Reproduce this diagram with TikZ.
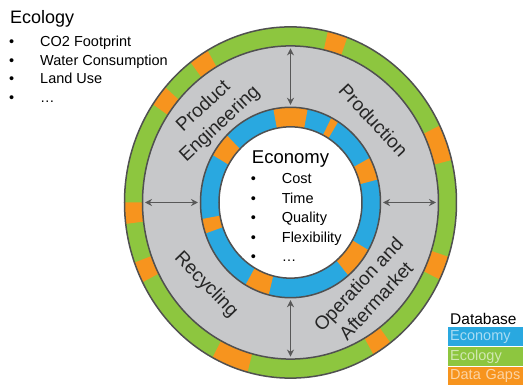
\documentclass[tikz,border=0pt]{standalone}
\usepackage{fontspec}
\setmainfont{Liberation Sans}
\usepackage{tikz}
\usetikzlibrary{arrows.meta,positioning}
\definecolor{ringgray}{RGB}{199,200,202}
\definecolor{econblue}{RGB}{41,168,224}
\definecolor{ecogreen}{RGB}{141,198,63}
\definecolor{gaporange}{RGB}{247,148,30}
\definecolor{edge}{RGB}{80,80,80}
\definecolor{arrowgray}{RGB}{88,88,88}

\begin{document}
\begin{tikzpicture}[x=1pt,y=1pt,font=\fontsize{14.5}{17}\selectfont]
\tikzset{rim/.style={draw=edge,line width=1.5pt},
  lbl/.style={font=\fontsize{19}{24}\selectfont,align=center,text=black!85,inner sep=0pt},
  itm/.style={anchor=base west,inner sep=0pt},
  bul/.style={anchor=base,inner sep=0pt},
  link/.style={{Stealth[length=7pt,width=7pt]}-{Stealth[length=7pt,width=7pt]},draw=arrowgray,line width=1.5pt,shorten <=2.5pt,shorten >=2.5pt},
  legbox/.style={anchor=north west,minimum width=75pt,minimum height=19.3pt,text width=71pt,inner xsep=2pt,inner ysep=0pt,align=left}}
\useasboundingbox[fill=white] (-290.5,-182.5) rectangle (232.5,202.5);

\begin{scope}[yscale=1.058]
\fill[ecogreen] (0,0) circle[radius=166];
\foreach \a/\b in {14/26,70/77,120/127,139/146,180/187,200/207,242/255,300/307,334/342}
  \fill[gaporange] (0,0) -- (\a:166) arc[start angle=\a,end angle=\b,radius=166] -- cycle;
\fill[ringgray] (0,0) circle[radius=148];
\fill[econblue] (0,0) circle[radius=90];
\foreach \a/\b in {14/28,58/63,79/101,135/150,190/199,240/256,310/330}
  \fill[gaporange] (0,0) -- (\a:90) arc[start angle=\a,end angle=\b,radius=90] -- cycle;
\fill[white] (0,0) circle[radius=71.5];
\foreach \r in {166,148,90,71.5} \draw[rim] (0,0) circle[radius=\r];
\foreach \a in {0,90,180,270} {
  \coordinate (go\a) at (\a:148);
  \coordinate (bo\a) at (\a:90);
}
\end{scope}
\foreach \a in {0,90,180,270} \draw[link] (go\a) -- (bo\a);

\node[lbl,rotate=43] (pe) at (-78.5,87) {Product\\Engineering};
\node[lbl,rotate=-47] (pr) at (83,82.5) {Production};
\node[lbl,rotate=-46] (rc) at (-84.5,-82.5) {Recycling};
\node[lbl,rotate=47] (oa) at (76.5,-90) {Operation and\\Aftermarket};

\node[anchor=base,inner sep=0pt,font=\fontsize{18.5}{20}\selectfont] (econ) at (0,38.5) {Economy};
\foreach \t [count=\i] in {Cost,Time,Quality,Flexibility,\ldots} {
  \node[bul] (eb\i) at (-37.2,38-19.5*\i) {\textbullet};
  \node[itm] (ei\i) at (-8.8,38-19.5*\i) {\t};
}

\node[anchor=base west,inner sep=0pt,font=\fontsize{18}{20}\selectfont] (ecol) at (-280.5,178.5) {Ecology};
\foreach \t [count=\i] in {CO2 Footprint,Water Consumption,Land Use,\ldots} {
  \node[bul] (lb\i) at (-278.8,174-18.5*\i) {\textbullet};
  \node[itm] (li\i) at (-250.5,174-18.5*\i) {\t};
}

\node[anchor=base west,inner sep=0pt,font=\fontsize{15.5}{17}\selectfont] (dbase) at (159.5,-122.5) {Database};
\node[legbox,fill=econblue,text=econblue!40!white] (lecon) at (157.5,-124.5) {Economy};
\node[legbox,fill=ecogreen,text=ecogreen!40!white,below=0pt of lecon] (lecol) {Ecology};
\node[legbox,fill=gaporange,text=gaporange!40!white,below=0pt of lecol] (lgap) {Data Gaps};
\end{tikzpicture}
\end{document}
